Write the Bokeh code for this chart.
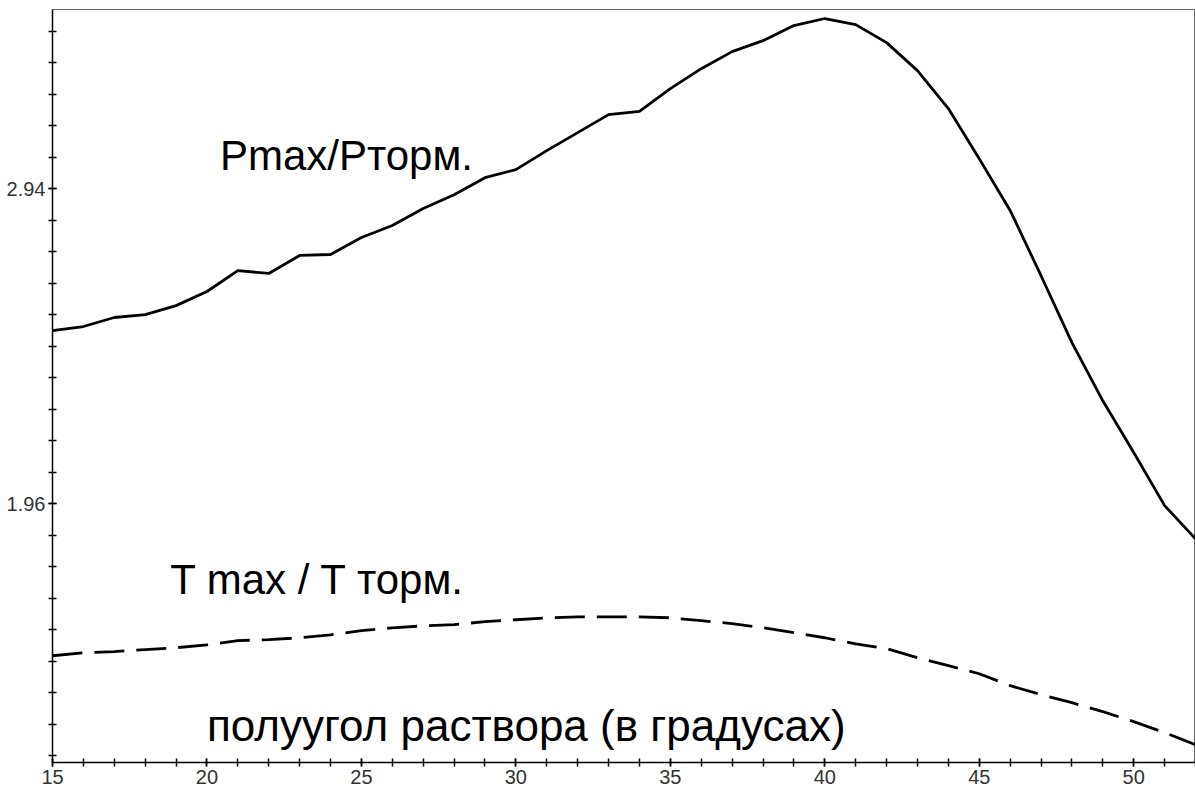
from bokeh.plotting import figure
from bokeh.models import Range1d, FixedTicker, Label
from bokeh.embed import file_html
from bokeh.resources import INLINE

# --- data ---
angle = list(range(15, 53))
p_ratio = [2.498, 2.511, 2.539, 2.548, 2.576, 2.620, 2.685, 2.676, 2.732, 2.735,
           2.788, 2.825, 2.878, 2.921, 2.974, 2.999, 3.058, 3.114, 3.170, 3.180,
           3.251, 3.313, 3.366, 3.400, 3.447, 3.469, 3.450, 3.394, 3.307, 3.189,
           3.033, 2.872, 2.669, 2.461, 2.280, 2.119, 1.954, 1.851]
t_ratio = [1.487, 1.496, 1.500, 1.506, 1.512, 1.521, 1.534, 1.537, 1.543, 1.552,
           1.565, 1.574, 1.580, 1.584, 1.593, 1.599, 1.605, 1.608, 1.608, 1.608,
           1.605, 1.596, 1.587, 1.574, 1.559, 1.543, 1.524, 1.509, 1.481, 1.456,
           1.431, 1.394, 1.366, 1.341, 1.313, 1.282, 1.248, 1.210]
x_major = [15, 20, 25, 30, 35, 40, 45, 50]
x_minor = list(range(15, 53))
y_major = [1.96, 2.94]
y_minor = [round(0.098 * k, 3) for k in range(12, 36)]
label_p = "Pmax/Pторм."
label_t = "T max / T торм."
label_x = "полуугол раствора (в градусах)"

p = figure(width=1195, height=792, output_backend="svg", toolbar_location=None,
           x_range=Range1d(15, 52), y_range=Range1d(1.155, 3.497),
           min_border_left=52, min_border_right=0, min_border_top=9, min_border_bottom=30)
p.background_fill_color = "white"
p.border_fill_color = "white"
p.outline_line_color = "#666666"
p.outline_line_width = 1
p.grid.visible = False

p.line(angle, p_ratio, line_color="black", line_width=2.8)
p.line(angle, t_ratio, line_color="black", line_width=2.8, line_dash="30 12")

tick_font = "'Liberation Sans Narrow', 'Liberation Sans'"
p.xaxis.ticker = FixedTicker(ticks=x_major, minor_ticks=x_minor)
p.yaxis.ticker = FixedTicker(ticks=y_major, minor_ticks=y_minor)
for ax in (p.xaxis, p.yaxis):
    ax.axis_line_color = "black"
    ax.axis_line_width = 1.5
    ax.major_tick_line_color = "black"
    ax.minor_tick_line_color = "black"
    ax.major_tick_line_width = 1.5
    ax.minor_tick_line_width = 1.5
    ax.major_tick_in = 4
    ax.major_tick_out = 4
    ax.minor_tick_in = 4
    ax.minor_tick_out = 4
    ax.major_label_text_font = tick_font
    ax.major_label_text_font_size = "20px"
    ax.major_label_text_color = "#333333"
    ax.major_label_standoff = 3

for txt, x, y, size in [(label_p, 20.42, 3.043, "42px"),
                        (label_t, 18.81, 1.724, "42px"),
                        (label_x, 20.0, 1.270, "44px")]:
    p.add_layout(Label(x=x, y=y, text=txt, text_font="Liberation Sans",
                       text_font_size=size, text_color="black",
                       text_baseline="alphabetic", text_align="left"))

open("out.html", "w").write(file_html(p, INLINE))
